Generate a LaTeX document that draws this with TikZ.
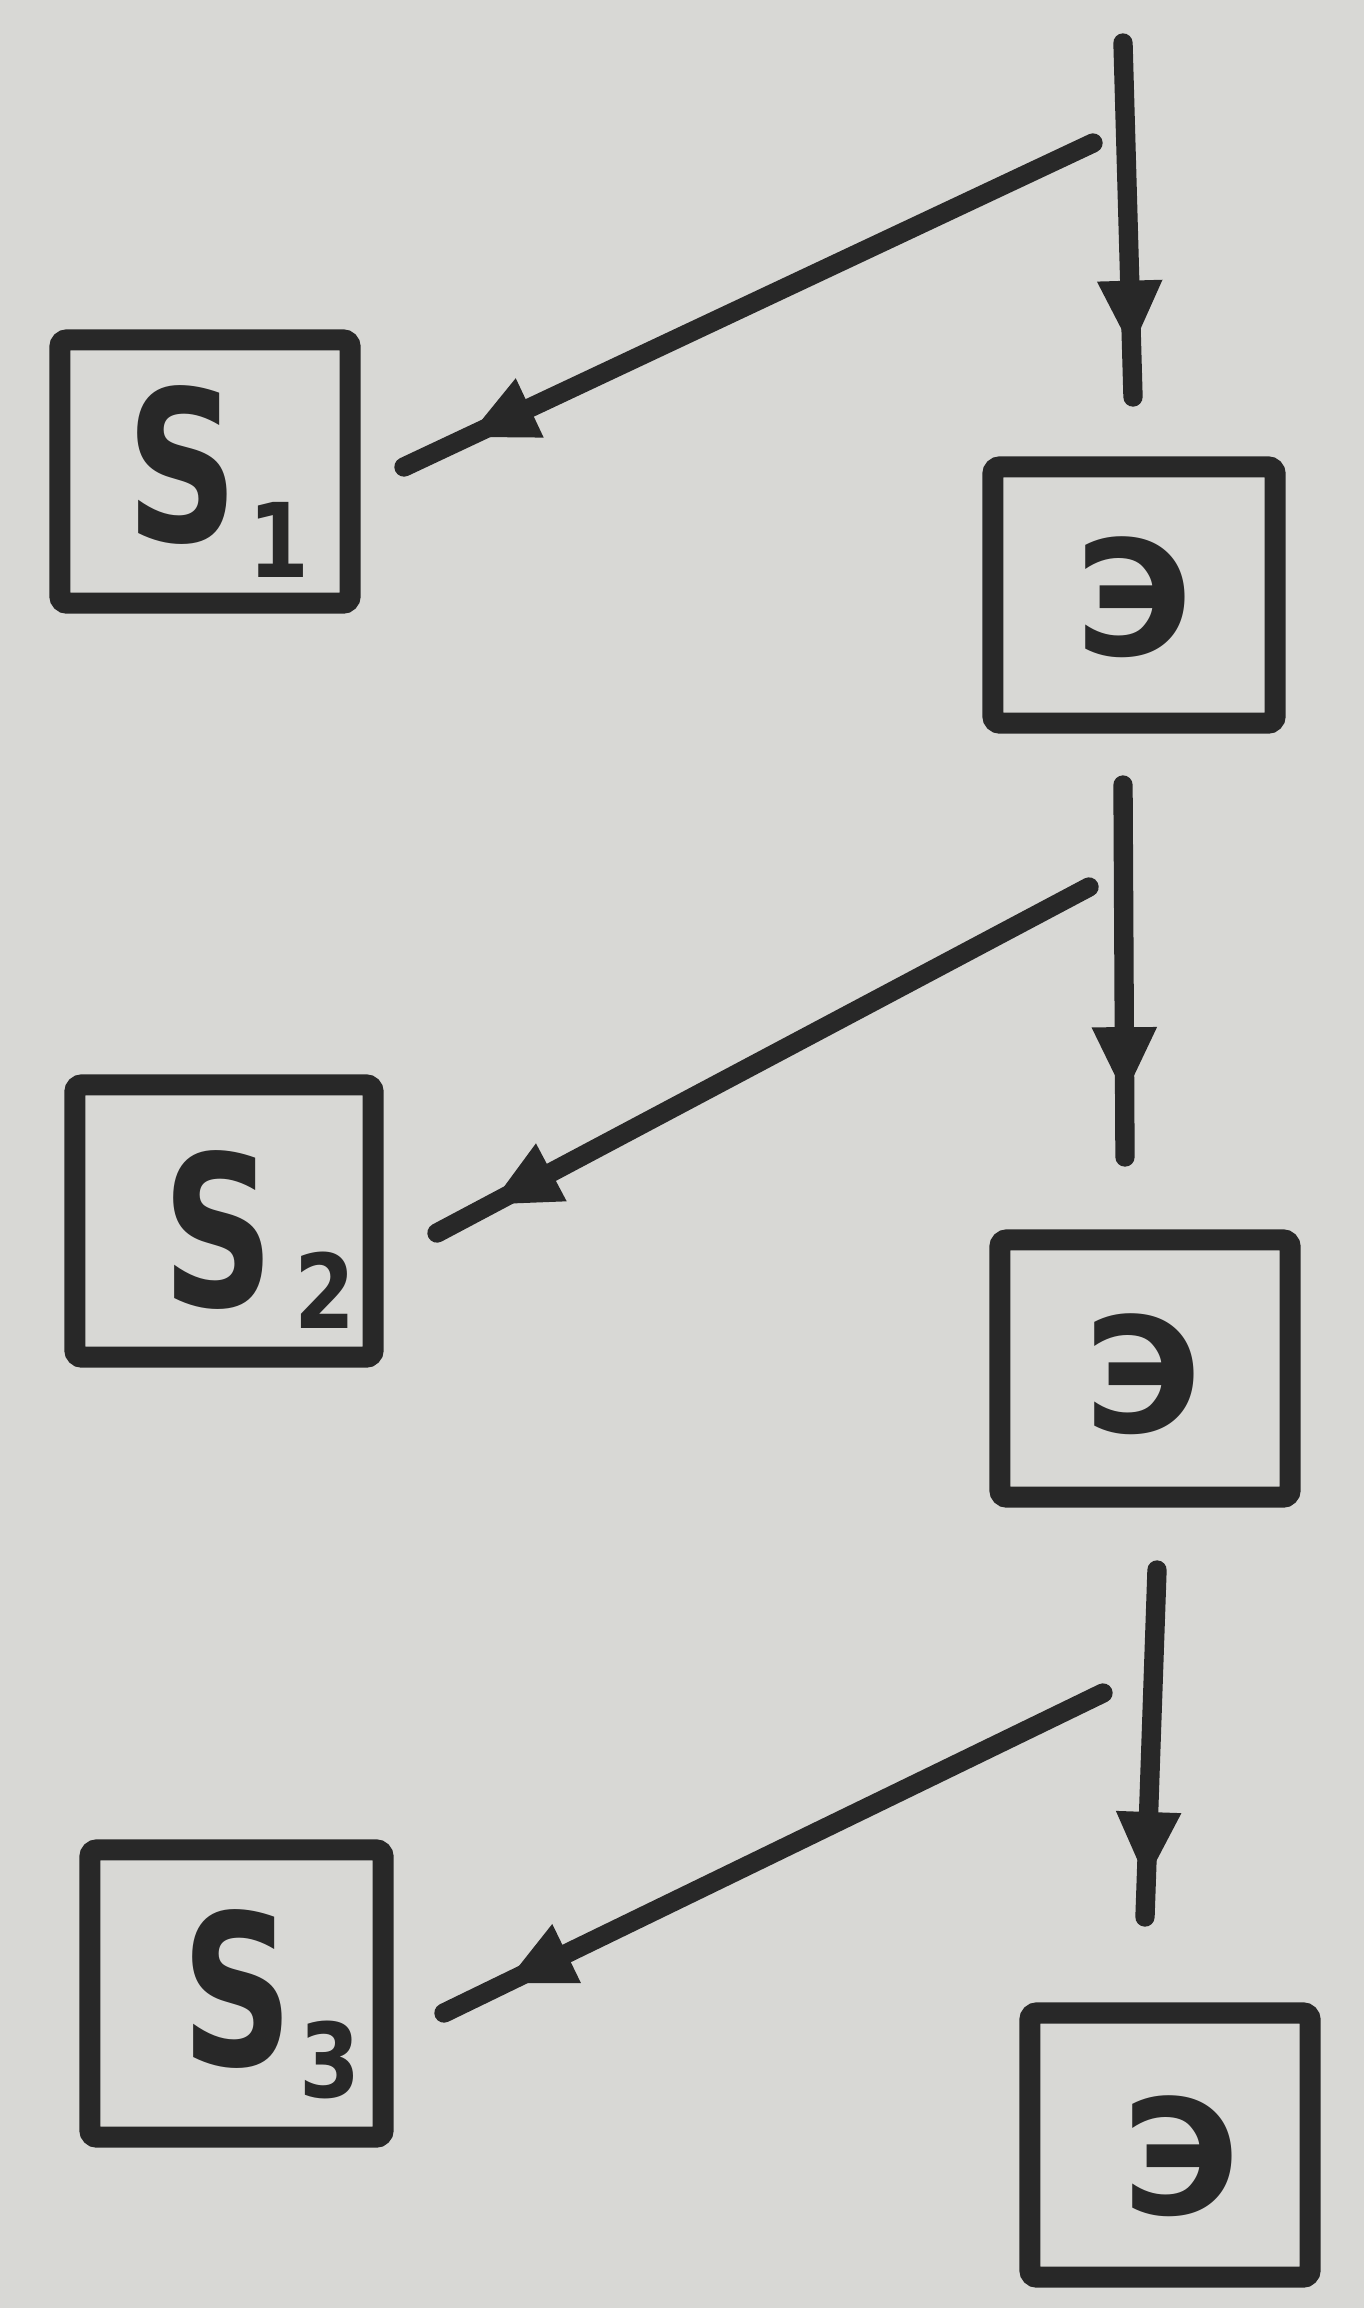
\documentclass[tikz,border=0pt]{standalone}
\usepackage{fontspec}
\usepackage{graphicx}
\setmainfont{DejaVu Sans}
\usetikzlibrary{arrows.meta,decorations.markings}
\definecolor{paper}{RGB}{216,216,213}
\definecolor{ink}{RGB}{40,40,40}
\tikzset{
  blk/.style={draw=ink, line width=6pt, rounded corners=2pt, inner sep=0pt},
  elbl/.style={inner sep=0pt, text=ink, font=\fontsize{1.6cm}{1.8cm}\selectfont\bfseries},
  slbl/.style={inner sep=0pt, anchor=base west, text=ink, font=\fontsize{2.1cm}{2.2cm}\selectfont\bfseries},
  flow/.style={draw=ink, line width=5.5pt, line cap=round, postaction={decorate},
    decoration={markings, mark=at position #1 with {\arrow[ink]{Triangle[width=17pt,length=20pt]}}}},
}
\newcommand{\sletter}{\scalebox{0.74}[1]{S}}
\newcommand{\subidx}[2]{\raisebox{-#2}{\fontsize{1.03cm}{1.1cm}\selectfont\bfseries\scalebox{0.85}[1]{#1}}}
\begin{document}
\begin{tikzpicture}[x=0.01cm,y=-0.01cm]
\useasboundingbox (0,0) rectangle (1364,2308);
\fill[paper] (0,0) rectangle (1364,2308);

% boxes
\node[blk, minimum width=2.90cm, minimum height=2.63cm] (s1) at (205,471.5) {};
\node[blk, minimum width=2.82cm, minimum height=2.56cm] (e1) at (1134,595) {};
\node[blk, minimum width=2.98cm, minimum height=2.72cm] (s2) at (224,1221) {};
\node[blk, minimum width=2.90cm, minimum height=2.57cm] (e2) at (1145,1368.5) {};
\node[blk, minimum width=2.93cm, minimum height=2.87cm] (s3) at (236.5,1993.5) {};
\node[blk, minimum width=2.80cm, minimum height=2.64cm] (e3) at (1170,2145) {};

% labels
\node[slbl] (s1t) at (126,541) {\sletter\hspace{0.1cm}\subidx{1}{0.36cm}};
\node[slbl] (s2t) at (162,1306) {\sletter\hspace{0.2cm}\subidx{2}{0.22cm}};
\node[slbl] (s3t) at (181,2065) {\sletter\hspace{0.06cm}\subidx{3}{0.32cm}};
\node[elbl] (e1t) at (1134,597) {Э};
\node[elbl] (e2t) at (1143,1374) {Э};
\node[elbl] (e3t) at (1181,2156) {Э};

% connector end points
\coordinate (v1a) at (1123,43);
\coordinate (v1b) at (1133,397);
\coordinate (v2a) at (1123,785);
\coordinate (v2b) at (1125,1157);
\coordinate (v3a) at (1157,1570);
\coordinate (v3b) at (1145,1917);
\coordinate (d1a) at (1093,143);
\coordinate (d1b) at (404,467);
\coordinate (d2a) at (1089,887);
\coordinate (d2b) at (437,1233);
\coordinate (d3a) at (1103,1693);
\coordinate (d3b) at (444,2013);

% connectors
\draw[flow=0.87] (v1a) -- (v1b);
\draw[flow=0.84] (v2a) -- (v2b);
\draw[flow=0.9] (v3a) -- (v3b);
\draw[flow=0.91] (d1a) -- (d1b);
\draw[flow=0.92] (d2a) -- (d2b);
\draw[flow=0.91] (d3a) -- (d3b);
\end{tikzpicture}
\end{document}
